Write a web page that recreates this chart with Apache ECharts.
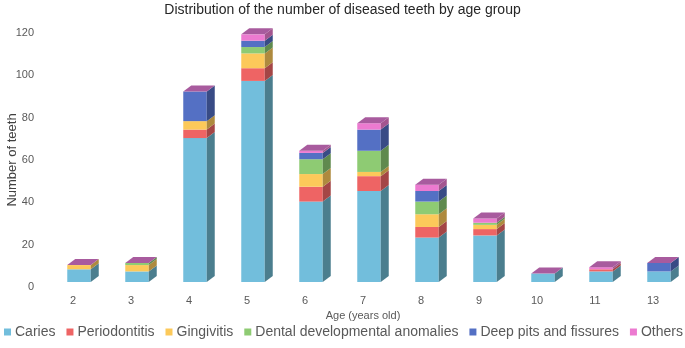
<!DOCTYPE html>
<html>
<head>
<meta charset="utf-8">
<script src="https://cdn.jsdelivr.net/npm/echarts@6/dist/echarts.min.js"></script>
<style>
  html, body { margin: 0; padding: 0; background: #fff; }
  #main { width: 685px; height: 348px; }
</style>
</head>
<body>
<div id="main"></div>
<script>
// age groups on the x axis
var ages = ['2', '3', '4', '5', '6', '7', '8', '9', '10', '11', '13'];
var yTicks = [0, 20, 40, 60, 80, 100, 120];
// number of teeth per disease
var caries        = [6, 5, 68, 95, 38, 43, 21, 22, 4, 5, 5];
var periodontitis = [0, 0, 4, 6, 7, 7, 5, 3, 0, 1, 0];
var gingivitis    = [2, 3, 4, 7, 6, 2, 6, 2, 0, 0, 0];
var anomalies     = [0, 1, 0, 3, 7, 10, 6, 1, 0, 0, 0];
var deepPits      = [0, 0, 14, 3, 3, 10, 5, 0, 0, 0, 4];
var others        = [0, 0, 0, 3, 1, 3, 3, 2, 0, 1, 0];

var seriesNames = ['Caries', 'Periodontitis', 'Gingivitis', 'Dental developmental anomalies', 'Deep pits and fissures', 'Others'];
var seriesValues = [caries, periodontitis, gingivitis, anomalies, deepPits, others];
var colors = ['#72BEDC', '#EE6464', '#FCC95A', '#8ECB73', '#5470C4', '#EC7AD0'];
var sideColors = ['#4B7E8E', '#A44646', '#AE8A3E', '#5F8A4E', '#384B85', '#A3558F'];
var topColor = '#A85B9E';

var font = '"Liberation Sans", Arial, sans-serif';

//把每一段的底和高算出来
var stackBase = ages.map(function () { return 0; });
var series = [];
for (var s = 0; s < seriesNames.length; s++) {
    var data = [];
    for (var i = 0; i < ages.length; i++) {
        data.push([i, stackBase[i], seriesValues[s][i]]);
        stackBase[i] += seriesValues[s][i];
    }
    series.push({
        name: seriesNames[s],
        type: 'custom',
        itemStyle: { color: colors[s] },
        encode: { x: 0, y: 2 },
        data: data,
        renderItem: makeRender(s, s == seriesNames.length - 1)
    });
}

//画一个带侧面的立体柱子
function makeRender(idx, isTop) {
    return function (params, api) {
        var cat = api.value(0);
        var base = api.value(1);
        var val = api.value(2);
        var p0 = api.coord([cat, base]);
        var p1 = api.coord([cat, base + val]);
        var bw = api.size([1, 0])[0];
        var fw = bw * 0.405;
        var ox = 6, oy = -5, dx = 8, dy = -6;
        var xl = p0[0] + ox - fw / 2;
        var xr = xl + fw;
        var yb = p0[1] + oy;
        var yt = p1[1] + oy;
        var children = [];
        if (val > 0) {
            children.push({
                type: 'rect',
                shape: { x: xl, y: yt, width: fw, height: yb - yt },
                style: { fill: colors[idx] }
            });
            children.push({
                type: 'polygon',
                shape: { points: [[xr, yt], [xr + dx, yt + dy], [xr + dx, yb + dy], [xr, yb]] },
                style: { fill: sideColors[idx] }
            });
        }
        if (isTop) {
            children.push({
                type: 'polygon',
                shape: { points: [[xl, yt], [xl + dx, yt + dy], [xr + dx, yt + dy], [xr, yt]] },
                style: { fill: topColor }
            });
        }
        return { type: 'group', children: children };
    };
}

var myChart = echarts.init(document.getElementById('main'));
var option = {
    animation: false,
    title: {
        text: 'Distribution of the number of diseased teeth by age group',
        left: 'center',
        top: -2,
        textStyle: { fontFamily: font, fontSize: 14, fontWeight: 'normal', color: '#262626' }
    },
    legend: {
        data: seriesNames,
        left: 4,
        top: 325,
        padding: 0,
        icon: 'rect',
        itemWidth: 7,
        itemHeight: 7,
        itemGap: 11,
        textStyle: { fontFamily: font, fontSize: 14, color: '#595959', padding: [0, 0, 0, -1] }
    },
    grid: { left: 44, right: 3, top: 33, bottom: 61, outerBoundsMode: 'none' },
    xAxis: {
        type: 'category',
        data: ages,
        name: 'Age (years old)',
        nameLocation: 'middle',
        nameGap: 23,
        nameMoveOverlap: false,
        nameTextStyle: { fontFamily: font, fontSize: 11, color: '#595959' },
        axisLine: { show: false },
        axisTick: { show: false },
        axisLabel: { fontFamily: font, fontSize: 11, color: '#595959', margin: 8 }
    },
    yAxis: {
        type: 'value',
        min: yTicks[0],
        max: yTicks[yTicks.length - 1],
        interval: 20,
        name: 'Number of teeth',
        nameLocation: 'middle',
        nameGap: 25,
        nameMoveOverlap: false,
        nameTextStyle: { fontFamily: font, fontSize: 13, color: '#404040' },
        splitLine: { show: false },
        axisLine: { show: false },
        axisTick: { show: false },
        axisLabel: { fontFamily: font, fontSize: 11, color: '#595959', margin: 10 }
    },
    series: series
};
myChart.setOption(option);
</script>
</body>
</html>
